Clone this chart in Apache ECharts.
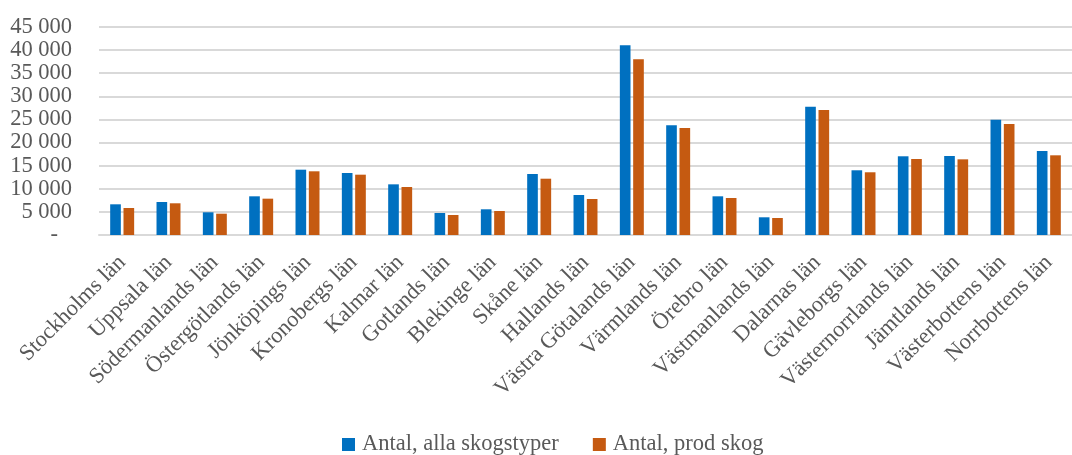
<!DOCTYPE html>
<html><head><meta charset="utf-8">
<script src="https://cdn.jsdelivr.net/npm/echarts@6/dist/echarts.min.js"></script>
<style>html,body{margin:0;padding:0;background:#fff}#c{width:1072px;height:455px}</style>
</head><body><div id="c"></div>
<script>
const categories = ["Stockholms län","Uppsala län","Södermanlands län","Östergötlands län","Jönköpings län","Kronobergs län","Kalmar län","Gotlands län","Blekinge län","Skåne län","Hallands län","Västra Götalands län","Värmlands län","Örebro län","Västmanlands län","Dalarnas län","Gävleborgs län","Västernorrlands län","Jämtlands län","Västerbottens län","Norrbottens län"];
const allaSkogstyper = [6640,7140,4910,8370,14130,13410,10960,4760,5560,13200,8650,41040,23730,8370,3830,27760,14000,17030,17090,24950,18170];
const prodSkog = [5840,6860,4610,7860,13780,13050,10390,4330,5190,12180,7790,38010,23150,8010,3680,27040,13570,16440,16370,24020,17240];
const seriesNames = ["Antal, alla skogstyper","Antal, prod skog"];
const yTicks = {min:0, max:45000, interval:5000};

const font = "'Liberation Serif', 'DejaVu Serif', serif";
const gray = '#595959';
const fs = 22.5;
const chart = echarts.init(document.getElementById('c'), null, {renderer:'canvas'});
chart.setOption({
  animation:false,
  textStyle:{fontFamily:font},
  grid:{left:99, right:-8.4, top:27, bottom:220, containLabel:false},
  legend:{
    left:337, top:428, itemWidth:13, itemHeight:13, itemGap:34,
    icon:'rect',
    textStyle:{fontFamily:font, fontSize:fs, color:gray, padding:[0,0,0,2]},
    data:seriesNames
  },
  xAxis:{
    type:'category', data:categories,
    axisLine:{lineStyle:{color:'#d9d9d9', width:2}},
    axisTick:{show:false},
    axisLabel:{rotate:45, interval:0, fontFamily:font, fontSize:fs, color:gray, margin:24}
  },
  yAxis:{
    type:'value', min:yTicks.min, max:yTicks.max, interval:yTicks.interval,
    axisLine:{show:false}, axisTick:{show:false},
    splitLine:{lineStyle:{color:'#d9d9d9', width:2}},
    axisLabel:{
      fontFamily:font, fontSize:fs, color:gray, margin:27,
      formatter:function(v){
        if(v===0) return '{d|-}';
        return String(v).replace(/\B(?=(\d{3})+(?!\d))/g,' ');
      },
      rich:{d:{fontFamily:font, fontSize:fs, color:gray, padding:[0,14,0,0]}}
    }
  },
  series:[
    {name:seriesNames[0], type:'bar', data:allaSkogstyper, barWidth:'23%', barGap:'25%',
     itemStyle:{color:'#0070C0'}},
    {name:seriesNames[1], type:'bar', data:prodSkog, barWidth:'23%', barGap:'25%',
     itemStyle:{color:'#C55A11'}}
  ]
});
</script></body></html>
